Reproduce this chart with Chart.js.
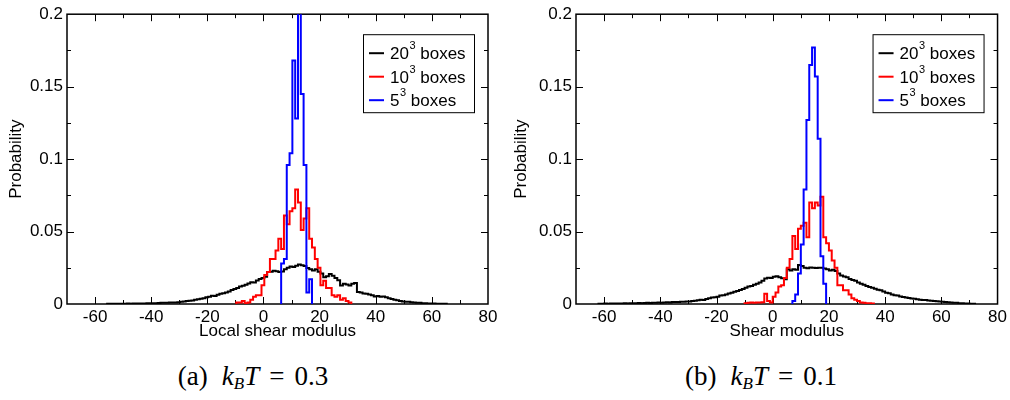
<!DOCTYPE html>
<html>
<head>
<meta charset="utf-8">
<script src="https://cdn.jsdelivr.net/npm/chart.js@4"></script>
<style>
  body { margin: 0; background: #fff; width: 1010px; height: 400px; position: relative; overflow: hidden; }
  canvas { position: absolute; top: 0; }
  #chartA { left: 0; }
  #chartB { left: 505px; }
  .caption { position: absolute; top: 361px; transform: translateX(-50%); font-family: "Liberation Serif", serif; font-size: 27px; color: #000; white-space: nowrap; }
  .caption sub { font-size: 17px; vertical-align: -4px; }
  .caption .lab { margin-right: 14px; }
  .caption .eq { margin: 0 10px; }
</style>
</head>
<body>
<canvas id="chartA" width="505" height="345"></canvas>
<canvas id="chartB" width="505" height="345"></canvas>
<div class="caption" style="left:253px"><span class="lab">(a)</span><i>k</i><sub><i>B</i></sub><i>T</i><span class="eq">=</span>0.3</div>
<div class="caption" style="left:761px"><span class="lab">(b)</span><i>k</i><sub><i>B</i></sub><i>T</i><span class="eq">=</span>0.1</div>
<script>
// histogramme: largeur de classe commune
const binWidth = 1;

// axes
const xTickLabels = [-60, -40, -20, 0, 20, 40, 60, 80];
const yTickLabels = [0, 0.05, 0.1, 0.15, 0.2];
const seriesNames = ['20', '10', '5'];
const seriesColors = ['#000000', '#ff0000', '#0000ff'];

// (a) kBT = 0.3
const leftBlackStart = -55.7;
const leftBlack = [
  0.0001, 0.0001, 0.0002, 0.0001, 0.0002, 0.0002, 0.0002, 0.0003, 0.0002, 0.0003,
  0.0003, 0.0004, 0.0003, 0.0004, 0.0005, 0.0005, 0.0006, 0.0005, 0.0007, 0.0008,
  0.0008, 0.0009, 0.0010, 0.0011, 0.0010, 0.0012, 0.0015, 0.0017, 0.0020, 0.0023,
  0.0025, 0.0029, 0.0033, 0.0036, 0.0040, 0.0046, 0.0050, 0.0057, 0.0055, 0.0063,
  0.0070, 0.0074, 0.0080, 0.0086, 0.0097, 0.0104, 0.0110, 0.0120, 0.0126, 0.0133,
  0.0142, 0.0150, 0.0148, 0.0162, 0.0172, 0.0180, 0.0188, 0.0220, 0.0222, 0.0230,
  0.0226, 0.0221, 0.0224, 0.0240, 0.0250, 0.0258, 0.0256, 0.0264, 0.0272, 0.0268,
  0.0262, 0.0248, 0.0240, 0.0232, 0.0240, 0.0222, 0.0210, 0.0185, 0.0192, 0.0207,
  0.0195, 0.0180, 0.0164, 0.0128, 0.0140, 0.0135, 0.0128, 0.0140, 0.0145, 0.0083,
  0.0080, 0.0072, 0.0070, 0.0066, 0.0060, 0.0052, 0.0055, 0.0050, 0.0052, 0.0046,
  0.0040, 0.0034, 0.0030, 0.0026, 0.0020, 0.0017, 0.0016, 0.0016, 0.0012, 0.0010,
  0.0009, 0.0008, 0.0006, 0.0005, 0.0004, 0.0004, 0.0003, 0.0002, 0.0002, 0.0001,
  0.0001
];
const leftRedStart = -9.7;
const leftRed = [
  0.001, 0.001, 0.002, 0.0005, 0.001, 0.003, 0.005, 0.006, 0.006, 0.013,
  0.020, 0.022, 0.031, 0.031, 0.037, 0.045, 0.038, 0.061, 0.055, 0.064,
  0.066, 0.079, 0.070, 0.051, 0.059, 0.066, 0.045, 0.039, 0.031, 0.025,
  0.013, 0.016, 0.011, 0.011, 0.006, 0.005, 0.006, 0.003, 0.004, 0.002,
  0.001
];
const leftBlueStart = 6.3;
const leftBlue = [0.028, 0.031, 0.096, 0.104, 0.168, 0.128, 0.215, 0.145, 0.096, 0.008, 0.017];

// (b) kBT = 0.1
const rightBlackStart = -62;
const rightBlack = [
  0.0002, 0.0002, 0.0003, 0.0002, 0.0003, 0.0003, 0.0004, 0.0003, 0.0004, 0.0005,
  0.0004, 0.0006, 0.0005, 0.0006, 0.0007, 0.0006, 0.0007, 0.0008, 0.0007, 0.0008,
  0.0009, 0.0010, 0.0009, 0.0011, 0.0012, 0.0011, 0.0013, 0.0014, 0.0013, 0.0015,
  0.0016, 0.0018, 0.0017, 0.0020, 0.0022, 0.0026, 0.0029, 0.0028, 0.0034, 0.0040,
  0.0044, 0.0047, 0.0050, 0.0058, 0.0060, 0.0066, 0.0072, 0.0078, 0.0084, 0.0090,
  0.0096, 0.0104, 0.0112, 0.0120, 0.0124, 0.0132, 0.0140, 0.0148, 0.0160, 0.0176,
  0.0182, 0.0179, 0.0188, 0.0191, 0.0185, 0.0178, 0.0170, 0.0240, 0.0232, 0.0240,
  0.0236, 0.0270, 0.0262, 0.0250, 0.0246, 0.0252, 0.0250, 0.0248, 0.0251, 0.0250,
  0.0245, 0.0240, 0.0232, 0.0236, 0.0228, 0.0210, 0.0196, 0.0190, 0.0184, 0.0172,
  0.0165, 0.0160, 0.0148, 0.0140, 0.0132, 0.0124, 0.0117, 0.0112, 0.0106, 0.0098,
  0.0095, 0.0086, 0.0078, 0.0074, 0.0066, 0.0060, 0.0058, 0.0052, 0.0048, 0.0045,
  0.0041, 0.0038, 0.0036, 0.0033, 0.0030, 0.0028, 0.0027, 0.0024, 0.0022, 0.0020,
  0.0019, 0.0017, 0.0016, 0.0014, 0.0012, 0.0010, 0.0009, 0.0008, 0.0006, 0.0005,
  0.0004, 0.0003, 0.0002, 0.0001
];
const rightRedStart = -10;
const rightRed = [
  0.0005, 0.0008, 0.001, 0.0008, 0.001, 0.001, 0.0012, 0.007, 0.002, 0.001,
  0.005, 0.008, 0.012, 0.013, 0.018, 0.025, 0.031, 0.047, 0.038, 0.052,
  0.054, 0.056, 0.046, 0.070, 0.066, 0.070, 0.068, 0.074, 0.046, 0.042,
  0.037, 0.030, 0.025, 0.013, 0.013, 0.0095, 0.0095, 0.0066, 0.004, 0.003,
  0.002, 0.001, 0.0008, 0.0005, 0.0005, 0.0003
];
const rightBlueStart = 7;
const rightBlue = [0.002, 0.0066, 0.021, 0.041, 0.079, 0.127, 0.165, 0.177, 0.157, 0.114, 0.033, 0.014];

// contour en escalier d'un histogramme
function outline(start, values) {
  const pts = [{ x: start, y: 0 }];
  values.forEach((v, i) => {
    pts.push({ x: start + i * binWidth, y: v });
    pts.push({ x: start + (i + 1) * binWidth, y: v });
  });
  pts.push({ x: start + values.length * binWidth, y: 0 });
  return pts;
}

// cadre + graduations vers l'intérieur sur les 4 côtés
const frameTicks = {
  id: 'frameTicks',
  beforeDatasetsDraw(chart) {
    const { ctx, chartArea: a, scales: { x, y } } = chart;
    ctx.save();
    ctx.strokeStyle = '#000';
    ctx.lineWidth = 1;
    ctx.beginPath();
    for (let v = -60; v <= 70; v += 10) {
      const px = Math.round(x.getPixelForValue(v)) + 0.5;
      const len = v % 20 === 0 ? 7 : 4;
      ctx.moveTo(px, a.bottom); ctx.lineTo(px, a.bottom - len);
      ctx.moveTo(px, a.top); ctx.lineTo(px, a.top + len);
    }
    for (let k = 1; k < 8; k++) {
      const py = Math.round(y.getPixelForValue(k * 0.025)) + 0.5;
      const len = k % 2 === 0 ? 7 : 4;
      ctx.moveTo(a.left, py); ctx.lineTo(a.left + len, py);
      ctx.moveTo(a.right, py); ctx.lineTo(a.right - len, py);
    }
    ctx.stroke();
    ctx.lineWidth = 1.5;
    ctx.strokeRect(a.left, a.top, a.right - a.left, a.bottom - a.top);
    ctx.restore();
  }
};

// légende encadrée avec exposants
const boxLegend = {
  id: 'boxLegend',
  afterDraw(chart, args, opts) {
    const { ctx, chartArea: a } = chart;
    const w = 111, h = 78;
    const left = a.right - opts.right - w;
    const top = a.top + opts.top;
    ctx.save();
    ctx.fillStyle = '#fff';
    ctx.fillRect(left, top, w, h);
    ctx.strokeStyle = '#000';
    ctx.lineWidth = 1;
    ctx.strokeRect(left + 0.5, top + 0.5, w, h);
    seriesNames.forEach((name, i) => {
      const cy = top + 19 + i * 23.5;
      ctx.strokeStyle = seriesColors[i];
      ctx.lineWidth = 2;
      ctx.beginPath();
      ctx.moveTo(left + 6, cy); ctx.lineTo(left + 21, cy);
      ctx.stroke();
      ctx.fillStyle = '#000';
      ctx.textBaseline = 'alphabetic';
      ctx.font = '17px "Liberation Sans"';
      const base = cy + 6;
      let tx = left + 27;
      ctx.fillText(name, tx, base);
      tx += ctx.measureText(name).width + 0.5;
      ctx.font = '11px "Liberation Sans"';
      ctx.fillText('3', tx, base - 10);
      tx += ctx.measureText('3').width;
      ctx.font = '17px "Liberation Sans"';
      ctx.fillText(' boxes', tx, base);
    });
    ctx.restore();
  }
};

const font17 = { family: 'Liberation Sans', size: 17 };

function makeChart(id, xTitle, yWidth, padRight, blackStart, black, redStart, red, blueStart, blue) {
  const ctx = document.getElementById(id).getContext('2d');
  return new Chart(ctx, {
    type: 'line',
    data: {
      datasets: [
        { data: outline(blackStart, black), borderColor: seriesColors[0], order: 3 },
        { data: outline(redStart, red), borderColor: seriesColors[1], order: 2 },
        { data: outline(blueStart, blue), borderColor: seriesColors[2], order: 1 }
      ]
    },
    options: {
      responsive: false,
      animation: false,
      devicePixelRatio: 1,
      layout: { padding: { top: 9, right: padRight, left: 0, bottom: 0 } },
      elements: {
        point: { radius: 0 },
        line: { borderWidth: 2, tension: 0, fill: false, borderJoinStyle: 'miter' }
      },
      plugins: {
        legend: { display: false },
        tooltip: { enabled: false },
        boxLegend: { right: 14, top: 20 }
      },
      scales: {
        x: {
          type: 'linear',
          min: -70,
          max: 80,
          grid: { display: false, drawTicks: false },
          border: { display: false },
          afterBuildTicks: s => { s.ticks = xTickLabels.map(v => ({ value: v })); },
          afterFit: s => { s.height = 41; },
          ticks: { color: '#000', font: font17, padding: 3, maxRotation: 0, autoSkip: false, callback: v => String(v) },
          title: { display: true, text: xTitle, color: '#000', font: font17, padding: { top: 0, bottom: 3 } }
        },
        y: {
          min: 0,
          max: 0.2,
          grid: { display: false, drawTicks: false },
          border: { display: false },
          afterBuildTicks: s => { s.ticks = yTickLabels.map(v => ({ value: v })); },
          afterFit: s => { s.width = yWidth; },
          ticks: { color: '#000', font: font17, padding: 4, callback: v => String(v) },
          title: { display: true, text: 'Probability', color: '#000', font: font17, padding: { top: 6, bottom: 0 } }
        }
      }
    },
    plugins: [frameTicks, boxLegend]
  });
}

makeChart('chartA', 'Local shear modulus', 67, 17, leftBlackStart, leftBlack, leftRedStart, leftRed, leftBlueStart, leftBlue);
makeChart('chartB', 'Shear modulus', 71, 10, rightBlackStart, rightBlack, rightRedStart, rightRed, rightBlueStart, rightBlue);
</script>
</body>
</html>
